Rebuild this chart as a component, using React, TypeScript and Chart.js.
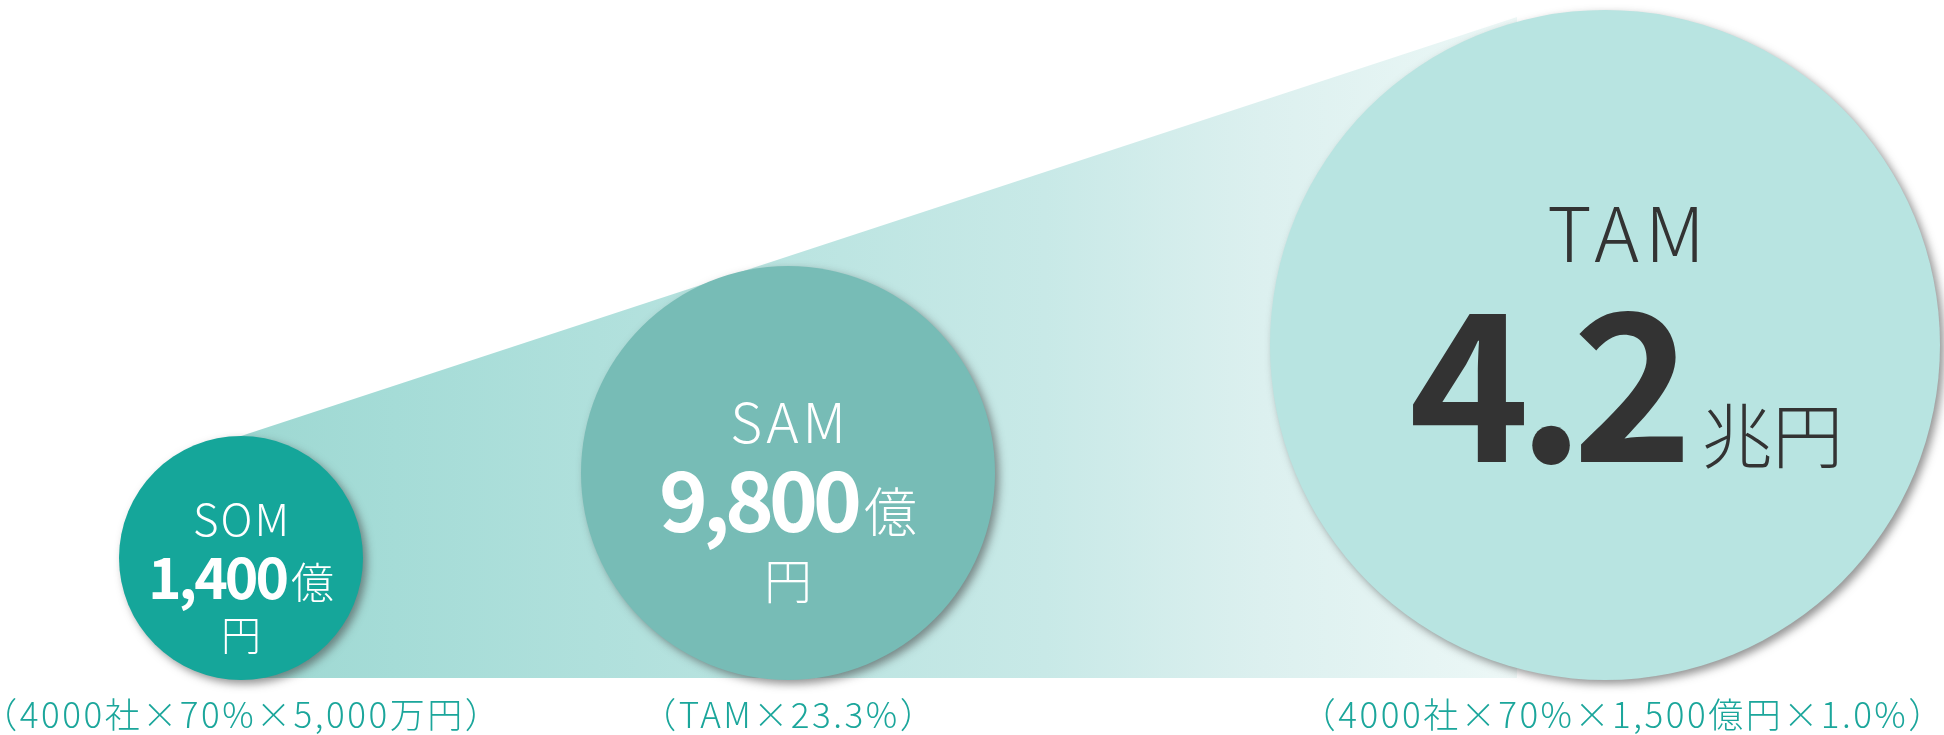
import React, { useEffect, useRef } from 'react';
import { Chart, registerables } from 'chart.js';

Chart.register(...registerables);

// ---- data ----
const categories = ['SOM', 'SAM', 'TAM'];
const marketSizeOku = [1400, 9800, 42000]; // 億円
const valueLabels = ['1,400', '9,800', '4.2'];
const unitLabels = ['億円', '億円', '兆円'];
const formulaLabels = [
  '（4000社×70%×5,000万円）',
  '（TAM×23.3%）',
  '（4000社×70%×1,500億円×1.0%）',
];
// bubble layout values on the hidden linear axes
const bubbleX = [241, 788, 1605];
const bubbleR = [122, 207, 335];
// funnel band (top edge)
const bandX = [241, 1517];
const bandY = [244, 663];

// ---- styles ----
const bubbleColors = ['#15a69a', '#77bcb6', '#b8e4e1'];
const captionColor = '#1ba69b';
const JP = '"Noto Sans CJK JP", "Noto Sans", sans-serif';

const labelStyles = [
  { color: '#ffffff', dx: 0, nameDy: -22, nameSize: 44, nameSpacing: 2, valueDy: 41, valueSize: 57, valueSpacing: -3, unitSize: 43, gap: 2, wrap: true, unit2Dy: 92, unit2Size: 40, capDx: 0 },
  { color: '#ffffff', dx: 0, nameDy: -30, nameSize: 55, nameSpacing: 4, valueDy: 59, valueSize: 83, valueSpacing: -5, unitSize: 53, gap: 2, wrap: true, unit2Dy: 126, unit2Size: 48, capDx: 0 },
  { color: '#333333', dx: 21, nameDy: -83, nameSize: 76, nameSpacing: 6, valueDy: 117, valueSize: 205, valueSpacing: -12, unitSize: 71, gap: 8, wrap: false, unit2Dy: 0, unit2Size: 0, capDx: 17 },
];
const captionSpacing = 2.5;

const shadowPlugin = {
  id: 'bubbleShadow',
  beforeDatasetDraw(chart: any, args: any) {
    if (args.index !== 1) return;
    const c = chart.ctx;
    c.save();
    c.shadowColor = 'rgba(60,60,60,0.55)';
    c.shadowBlur = 8;
    c.shadowOffsetX = 4;
    c.shadowOffsetY = 4;
  },
  afterDatasetDraw(chart: any, args: any) {
    if (args.index !== 1) return;
    chart.ctx.restore();
  },
};

function setSpacing(c: any, px: number) {
  c.letterSpacing = `${px}px`;
}

const labelPlugin = {
  id: 'marketLabels',
  afterDatasetsDraw(chart: any) {
    const c: CanvasRenderingContext2D = chart.ctx;
    const meta = chart.getDatasetMeta(1);
    const baseY = chart.scales.y.getPixelForValue(0);
    meta.data.forEach((el: any, i: number) => {
      const s = labelStyles[i];
      const cx = el.x + s.dx;
      const cy = el.y;
      c.save();
      c.fillStyle = s.color;
      c.textBaseline = 'alphabetic';
      // name
      c.textAlign = 'left';
      c.font = `300 ${s.nameSize}px ${JP}`;
      setSpacing(c, s.nameSpacing);
      const nw = c.measureText(categories[i]).width - s.nameSpacing;
      c.fillText(categories[i], cx - nw / 2, cy + s.nameDy);
      // value + unit
      const unitMain = s.wrap ? unitLabels[i].slice(0, 1) : unitLabels[i];
      c.font = `bold ${s.valueSize}px ${JP}`;
      setSpacing(c, s.valueSpacing);
      const vw = c.measureText(valueLabels[i]).width - s.valueSpacing;
      c.font = `300 ${s.unitSize}px ${JP}`;
      setSpacing(c, 0);
      const uw = c.measureText(unitMain).width;
      const startX = cx - (vw + s.gap + uw) / 2;
      c.font = `bold ${s.valueSize}px ${JP}`;
      setSpacing(c, s.valueSpacing);
      c.fillText(valueLabels[i], startX, cy + s.valueDy);
      setSpacing(c, 0);
      c.font = `300 ${s.unitSize}px ${JP}`;
      c.fillText(unitMain, startX + vw + s.gap, cy + s.valueDy);
      if (s.wrap) {
        c.textAlign = 'center';
        c.font = `300 ${s.unit2Size}px ${JP}`;
        c.fillText(unitLabels[i].slice(1), cx, cy + s.unit2Dy);
      }
      // caption
      c.textAlign = 'left';
      c.fillStyle = captionColor;
      c.font = `300 35px ${JP}`;
      setSpacing(c, captionSpacing);
      const cw = c.measureText(formulaLabels[i]).width - captionSpacing;
      c.fillText(formulaLabels[i], el.x + s.capDx - cw / 2, baseY + 48);
      c.restore();
    });
  },
};

function bandGradient(ctx: any) {
  const ch = ctx.chart;
  const xs = ch.scales && ch.scales.x;
  if (!ch.chartArea || !xs) return '#c8e9e6';
  const x0 = xs.getPixelForValue(bandX[0]);
  const x1 = xs.getPixelForValue(bandX[bandX.length - 1]);
  if (!isFinite(x0) || !isFinite(x1)) return '#c8e9e6';
  const g = ch.ctx.createLinearGradient(x0, 0, x1, 0);
  g.addColorStop(0, '#9ed8d2');
  g.addColorStop(0.12, '#a5dcd7');
  g.addColorStop(0.63, '#c8e9e7');
  g.addColorStop(0.8, '#dcf0ef');
  g.addColorStop(0.96, '#e9f6f5');
  g.addColorStop(1, '#eef8f7');
  return g;
}

export default function App() {
  const ref = useRef<HTMLCanvasElement | null>(null);
  useEffect(() => {
    if (!ref.current) return;
    const chart = new Chart(ref.current, {
      type: 'bubble',
      data: {
        datasets: [
          {
            type: 'line',
            label: 'band',
            data: bandX.map((x, i) => ({ x, y: bandY[i] })),
            fill: { value: 2 },
            borderWidth: 0,
            borderColor: 'rgba(0,0,0,0)',
            pointRadius: 0,
            tension: 0,
            order: 2,
            clip: false,
            backgroundColor: bandGradient,
          } as any,
          {
            type: 'bubble',
            label: 'market',
            data: categories.map((_, i) => ({ x: bubbleX[i], y: bubbleR[i], r: bubbleR[i], v: marketSizeOku[i] })),
            backgroundColor: bubbleColors,
            borderWidth: 0,
            hoverRadius: 0,
            order: 1,
            clip: false,
          } as any,
        ],
      },
      options: {
        animation: false,
        responsive: false,
        devicePixelRatio: 1,
        events: [],
        layout: { padding: 0, autoPadding: false },
        plugins: { legend: { display: false }, tooltip: { enabled: false } },
        scales: {
          x: { type: 'linear', min: 0, max: 1944, display: false },
          y: { type: 'linear', min: -55, max: 680, display: false },
        },
      },
      plugins: [shadowPlugin, labelPlugin],
    } as any);
    return () => chart.destroy();
  }, []);
  return (
    <div style={{ position: 'absolute', left: 0, top: 0, width: 1944, height: 735, background: '#fff' }}>
      <canvas ref={ref} width={1944} height={735} />
    </div>
  );
}
